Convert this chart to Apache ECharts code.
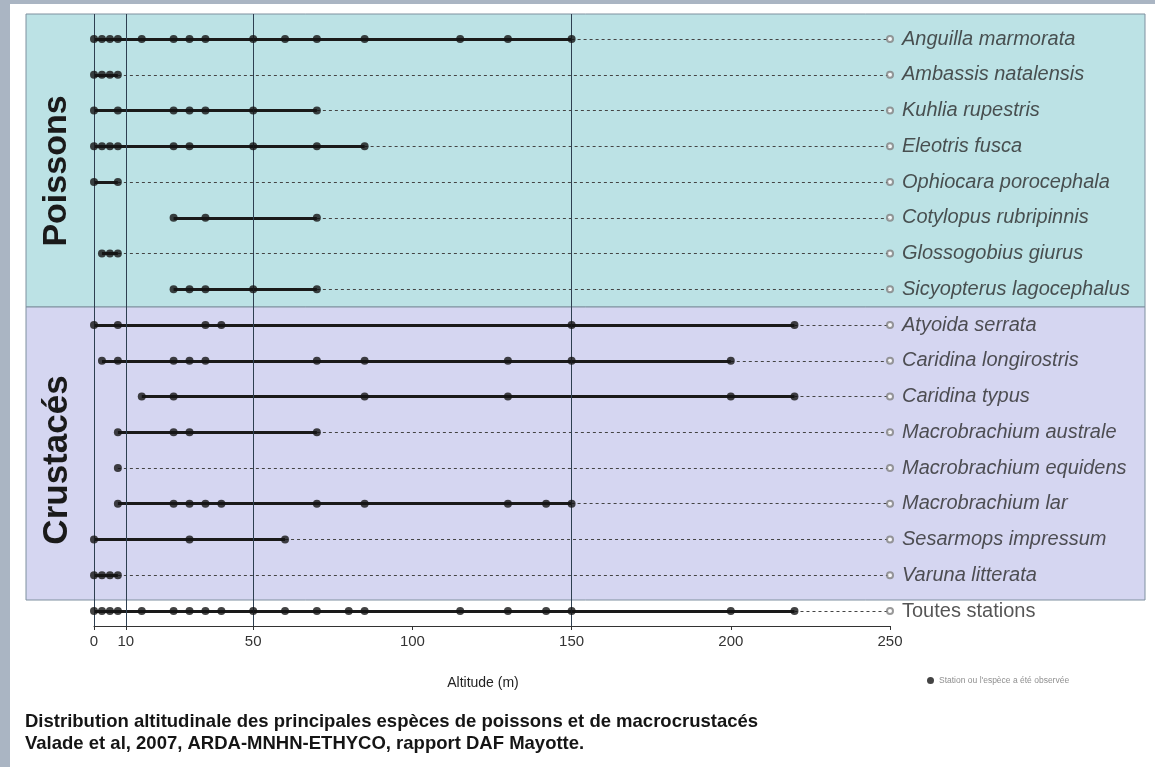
<!DOCTYPE html>
<html>
<head>
<meta charset="utf-8">
<script src="https://cdn.jsdelivr.net/npm/echarts@6/dist/echarts.min.js"></script>
<style>
html,body{margin:0;padding:0;background:#ffffff;}
#chart{width:1155px;height:767px;}
</style>
</head>
<body>
<div id="chart"></div>
<script>
// ---- Data ----
const categories = [
  'Anguilla marmorata', 'Ambassis natalensis', 'Kuhlia rupestris', 'Eleotris fusca',
  'Ophiocara porocephala', 'Cotylopus rubripinnis', 'Glossogobius giurus', 'Sicyopterus lagocephalus',
  'Atyoida serrata', 'Caridina longirostris', 'Caridina typus', 'Macrobrachium australe',
  'Macrobrachium equidens', 'Macrobrachium lar', 'Sesarmops impressum', 'Varuna litterata',
  'Toutes stations'
];
const anguillaMarmorata = [0, 2.5, 5, 7.5, 15, 25, 30, 35, 50, 60, 70, 85, 115, 130, 150];
const ambassisNatalensis = [0, 2.5, 5, 7.5];
const kuhliaRupestris = [0, 7.5, 25, 30, 35, 50, 70];
const eleotrisFusca = [0, 2.5, 5, 7.5, 25, 30, 50, 70, 85];
const ophiocaraPorocephala = [0, 7.5];
const cotylopusRubripinnis = [25, 35, 70];
const glossogobiusGiurus = [2.5, 5, 7.5];
const sicyopterusLagocephalus = [25, 30, 35, 50, 70];
const atyoidaSerrata = [0, 7.5, 35, 40, 150, 220];
const caridinaLongirostris = [2.5, 7.5, 25, 30, 35, 70, 85, 130, 150, 200];
const caridinaTypus = [15, 25, 85, 130, 200, 220];
const macrobrachiumAustrale = [7.5, 25, 30, 70];
const macrobrachiumEquidens = [7.5];
const macrobrachiumLar = [7.5, 25, 30, 35, 40, 70, 85, 130, 142, 150];
const sesarmopsImpressum = [0, 30, 60];
const varunaLitterata = [0, 2.5, 5, 7.5];
const toutesStations = [0, 2.5, 5, 7.5, 15, 25, 30, 35, 40, 50, 60, 70, 80, 85, 115, 130, 142, 150, 200, 220];
const tickValues = [0, 10, 50, 100, 150, 200, 250];
const gridLineValues = [0, 10, 50, 150];
const axisMax = 250;

const rows = [
  anguillaMarmorata, ambassisNatalensis, kuhliaRupestris, eleotrisFusca,
  ophiocaraPorocephala, cotylopusRubripinnis, glossogobiusGiurus, sicyopterusLagocephalus,
  atyoidaSerrata, caridinaLongirostris, caridinaTypus, macrobrachiumAustrale,
  macrobrachiumEquidens, macrobrachiumLar, sesarmopsImpressum, varunaLitterata,
  toutesStations
];

// ---- Build series data ----
const solidSegs = [], dashSegs = [], dots = [], ends = [];
rows.forEach((vals, i) => {
  const lo = Math.min(...vals), hi = Math.max(...vals);
  solidSegs.push({ coords: [[lo, i], [hi, i]] });
  dashSegs.push({ coords: [[hi, i], [axisMax, i]] });
  vals.forEach(v => dots.push([v, i]));
  const last = i === rows.length - 1;
  ends.push({
    value: [axisMax, i], name: categories[i],
    label: { fontStyle: last ? 'normal' : 'italic' }
  });
});

const chart = echarts.init(document.getElementById('chart'), null, { renderer: 'canvas' });
const FF = '"Liberation Sans", Arial, sans-serif';

chart.setOption({
  backgroundColor: '#ffffff',
  animation: false,
  grid: { left: 94, right: 265, top: 14, bottom: 141 },
  legend: {
    left: 922, top: 671,
    data: ["Station ou l'espèce a été observée"],
    icon: 'circle', itemWidth: 7, itemHeight: 7, itemGap: 4,
    textStyle: { fontSize: 8.5, color: '#8f8f8f', fontFamily: FF },
    selectedMode: false
  },
  xAxis: {
    type: 'value', min: 0, max: axisMax,
    name: 'Altitude (m)', nameLocation: 'middle', nameGap: 50,
    nameTextStyle: { fontSize: 14, color: '#222', fontFamily: FF, padding: [0, 18, 0, 0] },
    axisLine: { show: true, onZero: false, lineStyle: { color: '#333', width: 1 } },
    axisTick: { show: true, customValues: tickValues, length: 4, lineStyle: { color: '#333' } },
    axisLabel: { customValues: tickValues, fontSize: 15, color: '#333', fontFamily: FF, margin: 8 },
    splitLine: { show: false }
  },
  yAxis: { type: 'value', inverse: true, min: -0.7, max: 16.42, show: false, axisLine: { onZero: false } },
  graphic: [
    { type: 'rect', z: -10, shape: { x: 0, y: 0, width: 10, height: 767 }, style: { fill: '#aab5c3' } },
    { type: 'rect', z: -10, shape: { x: 0, y: 0, width: 1155, height: 4 }, style: { fill: '#aab5c3' } },
    { type: 'rect', z: -10, shape: { x: 26, y: 14, width: 1119, height: 293 }, style: { fill: '#bce2e5', stroke: '#7f909f', lineWidth: 1 } },
    { type: 'rect', z: -10, shape: { x: 26, y: 307, width: 1119, height: 293 }, style: { fill: '#d5d6f1', stroke: '#7f909f', lineWidth: 1 } },
    { type: 'text', z: 5, x: 57, y: 171, rotation: Math.PI / 2,
      style: { text: 'Poissons', font: 'bold 34px ' + FF, fill: '#1a1a1a', textAlign: 'center', textVerticalAlign: 'middle' } },
    { type: 'text', z: 5, x: 57, y: 460, rotation: Math.PI / 2,
      style: { text: 'Crustacés', font: 'bold 35px ' + FF, fill: '#1a1a1a', textAlign: 'center', textVerticalAlign: 'middle' } },
    { type: 'text', z: 5, x: 25, y: 722,
      style: { text: 'Distribution altitudinale des principales espèces de poissons et de macrocrustacés', font: 'bold 18.5px ' + FF, fill: '#151515', textVerticalAlign: 'middle' } },
    { type: 'text', z: 5, x: 25, y: 744,
      style: { text: 'Valade et al, 2007, ARDA-MNHN-ETHYCO, rapport DAF Mayotte.', font: 'bold 18.5px ' + FF, fill: '#151515', textVerticalAlign: 'middle' } }
  ],
  series: [
    {
      type: 'lines', coordinateSystem: 'cartesian2d', z: 3, silent: true,
      lineStyle: { color: '#444', width: 1, type: [3, 3], opacity: 1 },
      data: dashSegs
    },
    {
      type: 'lines', coordinateSystem: 'cartesian2d', z: 4, silent: true,
      lineStyle: { color: '#1a1a1a', width: 3, opacity: 1 },
      data: solidSegs
    },
    {
      name: "Station ou l'espèce a été observée",
      type: 'scatter', z: 5, symbol: 'circle', symbolSize: 8,
      itemStyle: { color: '#141414' },
      data: dots,
      markLine: {
        silent: true, symbol: 'none', label: { show: false },
        lineStyle: { color: '#2e3f50', width: 1, type: 'solid' },
        data: gridLineValues.map(v => ({ xAxis: v }))
      }
    },
    {
      type: 'scatter', z: 5, symbol: 'emptyCircle', symbolSize: 6,
      itemStyle: { color: '#808080', borderWidth: 1 },
      label: {
        show: true, position: 'right', distance: 8, formatter: '{b}',
        fontSize: 20, color: '#2a2a2a', fontFamily: FF
      },
      data: ends
    }
  ]
});
</script>
</body>
</html>
